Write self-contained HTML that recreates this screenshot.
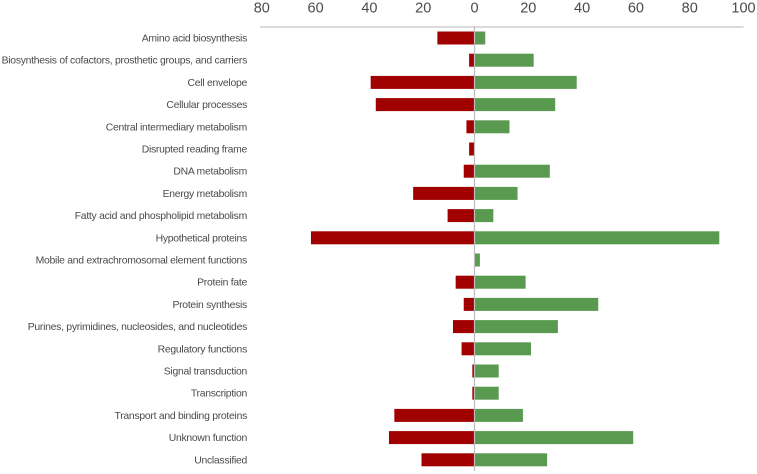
<!DOCTYPE html>
<html lang="en">
<head>
<meta charset="utf-8">
<title>Functional category diverging bar chart</title>
<style>
html,body{margin:0;padding:0;background:#fff;}
svg{display:block;font-family:"Liberation Sans",sans-serif;}
</style>
</head>
<body>
<svg id="chart" width="757" height="474" viewBox="0 0 757 474" xmlns="http://www.w3.org/2000/svg"></svg>
<script>
const categories = ["Amino acid biosynthesis","Biosynthesis of cofactors, prosthetic groups, and carriers","Cell envelope","Cellular processes","Central intermediary metabolism","Disrupted reading frame","DNA metabolism","Energy metabolism","Fatty acid and phospholipid metabolism","Hypothetical proteins","Mobile and extrachromosomal element functions","Protein fate","Protein synthesis","Purines, pyrimidines, nucleosides, and nucleotides","Regulatory functions","Signal transduction","Transcription","Transport and binding proteins","Unknown function","Unclassified"];
const negativeValues = [13.8,2,38.6,36.7,3,2,4,22.8,10,60.8,0,7,4,8,4.8,0.8,0.8,29.8,31.8,19.7];
const positiveValues = [4,22,38,30,13,0,28,16,7,91,2,19,46,31,21,9,9,18,59,27];
const tickValues = [-80,-60,-40,-20,0,20,40,60,80,100];

const svg = document.getElementById('chart');
const NS = 'http://www.w3.org/2000/svg';
const xScale = v => 474.5 + v * 2.69;
const yScale = i => 38 + i * 22.2;
const BAR_H = 13;

function add(tag, attrs, parent) {
  const el = document.createElementNS(NS, tag);
  for (const k in attrs) el.setAttribute(k, attrs[k]);
  (parent || svg).appendChild(el);
  return el;
}

const axisLine = add('line', {x1:260, x2:743.5, y1:27, y2:27, stroke:'#c4c4c4', 'stroke-width':1.2});



tickValues.forEach(t => {
  const tick = add('text', {x:xScale(t) + (t < 0 ? 2.5 : 0), y:12.5, 'text-anchor':'middle', 'font-size':14.5, fill:'#4a4a4a'});
  tick.textContent = Math.abs(t);
  
  
});

categories.forEach((c, i) => {
  const y = yScale(i);
  const label = add('text', {x:247, y:y + 3.5, 'text-anchor':'end', 'font-size':10.4, fill:'#4a4a4a', 'letter-spacing':'-0.27'});
  label.textContent = c;
  
  

  if (negativeValues[i] > 0) {
    const neg = add('rect', {x:xScale(-negativeValues[i]), y:y - BAR_H / 2, width:xScale(0) - xScale(-negativeValues[i]), height:BAR_H, fill:'#a00000'});
    
    
  }
  if (positiveValues[i] > 0) {
    const pos = add('rect', {x:xScale(0), y:y - BAR_H / 2, width:xScale(positiveValues[i]) - xScale(0), height:BAR_H, fill:'#5a9a50'});
    
    
  }
});

const zeroLine = add('line', {x1:xScale(0), x2:xScale(0), y1:27, y2:471, stroke:'#bdbdbd', 'stroke-width':1.2});


</script>
</body>
</html>
